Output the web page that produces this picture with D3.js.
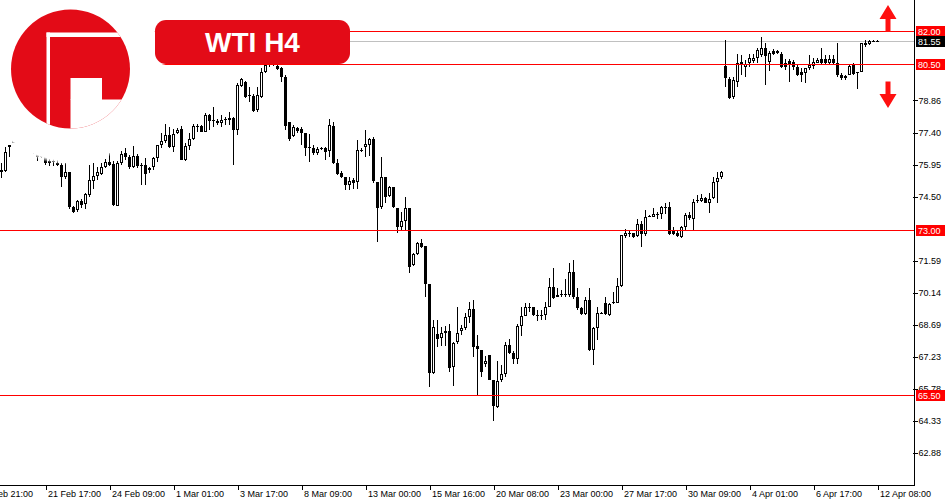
<!DOCTYPE html>
<html>
<head>
<meta charset="utf-8">
<script src="https://cdn.jsdelivr.net/npm/d3@7"></script>
<style>
  html, body { margin: 0; padding: 0; background: #ffffff; }
  svg { display: block; }
</style>
</head>
<body>
<svg id="chart" width="950" height="500"></svg>
<script>
// ---------------- DATA (WTI H4 candles, bar index 0..219) ----------------
const opens = [
75.61,75.67,76.73,76.95,77.10,77.25,77.05,76.80,76.60,76.50,
76.30,76.35,76.00,76.10,76.03,75.93,75.40,75.60,74.01,73.89,
74.29,74.16,74.57,75.21,75.45,75.52,75.83,76.07,75.98,74.09,
76.01,76.49,76.28,75.83,76.34,75.95,75.93,75.70,75.83,76.24,
76.84,77.03,77.29,76.76,77.37,77.55,76.16,76.79,77.09,77.70,
77.70,77.44,78.20,77.99,77.92,77.85,77.99,77.97,78.07,77.52,
79.52,79.70,79.10,79.07,78.42,79.02,80.16,80.46,80.49,80.43,
80.31,79.93,77.89,77.24,77.61,77.55,77.39,76.73,76.71,76.46,
76.69,76.71,76.58,77.70,76.01,75.55,75.40,75.04,75.25,75.17,
76.61,76.76,76.84,77.09,75.17,74.01,75.40,74.53,74.95,73.97,
73.14,73.41,73.97,71.40,71.89,72.38,72.26,70.54,66.50,68.28,
68.08,68.41,68.41,66.77,67.93,68.43,68.54,69.06,69.40,67.73,
67.55,66.90,67.33,66.19,64.98,66.19,66.46,67.78,67.43,67.13,
68.64,69.09,69.49,69.49,69.13,69.12,69.12,69.51,70.39,69.94,
70.09,70.07,70.04,71.10,69.97,69.44,69.18,69.82,67.55,68.54,
69.21,69.70,69.14,69.70,69.70,70.45,72.72,72.87,72.86,72.72,
73.26,72.81,73.62,73.59,73.71,73.71,74.01,74.01,72.96,72.86,
72.68,73.14,73.67,73.47,74.31,74.31,74.42,74.22,74.42,75.17,
75.37,80.41,79.81,79.02,79.70,80.58,80.38,80.54,80.65,80.78,
80.91,81.21,80.61,81.11,81.11,80.96,80.54,80.65,80.58,80.38,
80.16,80.08,80.31,80.40,80.56,80.72,80.72,80.56,80.72,80.54,
80.01,79.86,80.01,80.46,80.16,80.16,81.37,81.40,81.53,81.55];
const highs = [
76.02,76.76,76.86,77.20,77.35,77.40,77.20,76.95,76.70,76.55,
76.45,76.40,76.20,76.25,76.15,76.01,76.01,75.61,74.07,74.35,
74.38,74.65,75.93,76.04,75.85,76.04,76.19,76.46,76.13,76.13,
76.58,76.69,76.38,76.79,76.43,76.01,76.23,75.85,76.28,76.84,
77.37,77.79,77.67,77.55,77.59,77.70,76.91,77.37,77.79,77.79,
77.74,78.27,78.23,78.57,78.01,78.20,78.12,78.32,78.12,79.63,
79.88,79.73,79.48,79.13,79.48,80.31,80.49,80.54,80.54,80.49,
80.38,80.01,77.89,77.74,77.67,77.64,77.39,77.34,76.84,76.76,
76.76,76.76,78.01,77.89,76.19,75.67,75.40,75.40,75.33,77.06,
76.69,77.52,77.14,77.21,75.17,76.31,75.40,74.98,74.95,73.97,
73.82,74.50,73.97,71.93,72.46,72.57,72.26,70.54,68.91,68.91,
68.61,68.64,68.73,67.93,69.51,68.68,69.21,69.74,69.82,68.23,
67.55,67.28,67.33,66.19,67.07,66.87,67.93,68.04,67.52,68.73,
69.49,69.67,69.70,69.49,69.36,69.36,69.74,70.80,71.25,70.35,
70.27,70.75,71.48,71.63,70.35,69.51,69.97,70.35,68.58,69.51,
69.29,69.94,69.67,70.19,70.80,72.76,73.02,72.99,72.86,73.47,
73.41,73.89,73.67,73.97,73.82,74.07,74.20,74.27,73.14,72.96,
73.17,73.77,73.82,74.38,74.57,74.62,74.50,74.65,75.40,75.63,
75.67,81.59,79.93,79.90,80.96,80.91,80.69,80.96,80.96,81.23,
81.73,81.46,81.09,81.18,81.14,81.06,80.72,80.72,80.69,80.46,
80.31,80.31,80.91,80.76,80.76,81.22,80.91,80.91,80.91,81.44,
80.08,80.01,80.46,80.54,80.16,81.47,81.59,81.59,81.57,81.58];
const lows = [
75.34,75.63,76.30,76.92,76.95,77.00,76.70,76.55,76.45,76.13,
76.26,75.94,75.90,75.90,75.90,74.95,75.28,73.92,73.74,73.82,
73.97,73.95,74.50,74.83,75.25,75.48,75.78,75.88,74.07,74.07,
75.93,76.16,75.74,75.78,75.78,75.03,75.03,75.55,75.70,76.08,
76.69,76.91,76.69,76.53,77.33,76.16,76.13,76.61,77.06,77.44,
77.41,77.41,77.52,77.67,77.74,77.67,77.74,77.74,75.93,77.29,
79.48,78.98,78.80,78.32,78.35,78.95,80.08,80.38,80.41,80.23,
79.68,77.52,77.03,77.18,77.37,76.84,76.34,76.08,76.38,76.38,
76.61,76.16,76.30,75.98,75.48,75.33,74.80,74.80,74.83,74.83,
76.53,76.28,76.34,75.10,72.46,73.92,74.20,74.50,73.97,72.86,
72.99,72.99,71.05,71.36,71.85,72.16,69.97,65.86,66.46,67.70,
67.73,67.73,66.57,65.92,67.82,68.23,68.46,68.79,67.25,65.47,
66.32,66.80,66.19,64.35,64.91,66.12,66.34,67.37,66.92,66.92,
68.19,69.09,69.29,69.09,68.88,68.91,68.91,69.49,69.85,69.94,
69.94,69.94,69.97,69.85,69.36,69.14,69.14,67.52,66.87,68.00,
69.18,69.14,69.09,69.64,69.67,70.42,72.61,72.68,72.61,72.68,
72.20,72.72,73.56,73.59,73.47,73.47,73.71,72.76,72.76,72.68,
72.61,72.99,73.44,72.99,74.20,74.27,74.20,73.77,74.38,74.22,
75.28,79.45,78.91,78.91,79.45,80.01,79.93,80.38,80.54,80.56,
80.84,79.55,80.20,80.91,80.96,80.31,80.23,79.70,80.23,79.96,
79.70,79.66,80.23,80.27,80.54,80.46,80.50,80.46,80.50,79.93,
79.78,79.78,80.01,80.01,79.36,80.13,81.29,81.37,81.51,81.54];
const closes = [
75.70,76.53,76.84,77.10,77.25,77.05,76.80,76.60,76.50,76.30,
76.35,76.00,76.10,76.05,75.92,75.40,75.60,74.01,73.82,74.31,
74.12,74.60,75.25,75.43,75.63,75.85,76.07,75.95,74.12,76.01,
76.43,76.31,75.85,76.34,75.89,75.93,75.52,75.79,76.24,76.84,
77.03,77.29,76.76,77.34,77.52,76.16,76.79,77.09,77.70,77.68,
77.44,78.20,77.94,77.95,77.82,77.97,78.01,78.07,77.52,79.55,
79.83,79.02,79.06,78.38,79.10,80.16,80.46,80.49,80.47,80.28,
79.90,77.70,77.10,77.64,77.48,77.39,76.71,76.71,76.46,76.64,
76.67,76.53,77.74,76.01,75.52,75.37,75.03,75.22,75.13,76.61,
76.63,76.88,77.09,75.22,73.97,75.40,74.50,74.95,74.01,73.14,
73.41,73.97,71.30,71.89,72.38,72.23,70.54,66.52,68.58,68.04,
68.34,68.34,66.72,67.88,68.31,68.56,69.06,69.40,67.70,67.58,
66.57,67.05,66.19,65.02,66.15,66.46,67.78,67.43,67.13,68.64,
69.09,69.49,69.47,69.14,69.11,69.14,69.51,70.39,69.89,70.04,
70.07,70.09,71.10,69.94,69.44,69.18,69.82,67.55,68.54,69.21,
69.23,69.18,69.64,69.72,70.45,72.76,72.86,72.85,72.68,73.26,
72.81,73.56,73.60,73.71,73.72,74.01,74.03,72.81,72.81,72.72,
73.11,73.67,73.52,74.27,74.33,74.42,74.20,74.38,75.17,75.33,
75.63,79.86,78.95,79.78,80.54,80.49,80.50,80.76,80.76,81.14,
81.21,80.87,81.02,80.96,80.99,80.36,80.36,80.46,80.38,80.01,
80.01,80.31,80.46,80.61,80.69,80.54,80.56,80.72,80.54,80.01,
79.86,79.96,80.41,80.05,80.08,81.44,81.47,81.55,81.54,81.55];

// time-axis labels (bar index of each label, every 16 H4 bars)
const xTickBars   = [-6, 11, 27, 43, 59, 75, 91, 107, 123, 139, 155, 171, 187, 203, 219];
const xTickLabels = ["17 Feb 21:00","21 Feb 17:00","24 Feb 09:00","1 Mar 01:00","3 Mar 17:00",
  "8 Mar 09:00","13 Mar 00:00","15 Mar 16:00","20 Mar 08:00","23 Mar 00:00","27 Mar 17:00",
  "30 Mar 09:00","4 Apr 01:00","6 Apr 17:00","12 Apr 08:00"];
// price-scale labels
const yTickValues = [78.86, 77.40, 75.95, 74.50, 71.59, 70.14, 68.69, 67.23, 65.78, 64.33, 62.88];
// horizontal levels and current bid
const levels = [82.00, 80.50, 73.00, 65.50];
const bidPrice = 81.55;
const title = "WTI H4";

// ---------------- DRAWING ----------------
const plotRight = 914, plotBottom = 485;
const svg = d3.select("#chart");

const x = d3.scaleLinear().domain([0, 219]).range([1, 877]);
const y = d3.scaleLinear().domain([61.44, 83.404]).range([485, 0]);

const bars = d3.range(opens.length).filter(i => opens[i] != null).map(i => ({
  i, o: opens[i], h: highs[i], l: lows[i], c: closes[i]
}));

const plot = svg.append("g");

// bid line (silver, behind candles)
plot.append("line")
  .attr("x1", 0).attr("x2", plotRight)
  .attr("y1", Math.round(y(bidPrice)) + 0.5).attr("y2", Math.round(y(bidPrice)) + 0.5)
  .attr("stroke", "#c0c0c0").attr("stroke-width", 1);

// candles
const cg = plot.append("g").attr("shape-rendering", "crispEdges");
bars.forEach(b => {
  const cx = Math.round(x(b.i));
  const yh = Math.round(y(b.h)), yl = Math.round(y(b.l));
  cg.append("line")
    .attr("x1", cx + 0.5).attr("x2", cx + 0.5)
    .attr("y1", yh).attr("y2", Math.max(yl, yh + 1))
    .attr("stroke", "#000").attr("stroke-width", 1);
  const yTop = Math.round(y(Math.max(b.o, b.c)));
  const yBot = Math.round(y(Math.min(b.o, b.c)));
  const hgt = Math.max(1, yBot - yTop);
  if (b.c >= b.o && hgt >= 3) {
    cg.append("rect")
      .attr("x", cx - 0.5).attr("y", yTop + 0.5)
      .attr("width", 2).attr("height", hgt - 1)
      .attr("fill", "#fff").attr("stroke", "#000").attr("stroke-width", 1);
  } else {
    cg.append("rect")
      .attr("x", cx - 1).attr("y", yTop)
      .attr("width", 3).attr("height", hgt)
      .attr("fill", "#000");
  }
});

// red horizontal levels
levels.forEach(v => {
  const yy = Math.round(y(v)) + 0.5;
  plot.append("line")
    .attr("x1", 0).attr("x2", plotRight)
    .attr("y1", yy).attr("y2", yy)
    .attr("stroke", "#ff0000").attr("stroke-width", 1);
});

// white halo of the logo watermark
const defs = svg.append("defs");
const rg = defs.append("radialGradient").attr("id", "halo");
rg.append("stop").attr("offset", "0.955").attr("stop-color", "#fff").attr("stop-opacity", 1);
rg.append("stop").attr("offset", "1").attr("stop-color", "#fff").attr("stop-opacity", 0);
svg.append("circle").attr("cx", 70).attr("cy", 69).attr("r", 96).attr("fill", "url(#halo)");

// logo
const logoRed = "#e30b17";
defs.append("clipPath").attr("id", "logoClip")
  .append("circle").attr("cx", 70.5).attr("cy", 69).attr("r", 59.5);
const lg = svg.append("g").attr("clip-path", "url(#logoClip)");
lg.append("rect").attr("x", 0).attr("y", 0).attr("width", 140).attr("height", 140).attr("fill", logoRed);
lg.append("rect").attr("x", 46.5).attr("y", 32.5).attr("width", 3.5).attr("height", 110).attr("fill", "#fff");
lg.append("rect").attr("x", 46.5).attr("y", 32.5).attr("width", 100).attr("height", 4.5).attr("fill", "#fff");
lg.append("rect").attr("x", 70.5).attr("y", 78).attr("width", 31.5).attr("height", 22).attr("fill", "#fff");
lg.append("rect").attr("x", 70.5).attr("y", 99.5).attr("width", 70).attr("height", 40).attr("fill", "#fff");

// title badge
svg.append("rect").attr("x", 155).attr("y", 20).attr("width", 195).attr("height", 44)
  .attr("rx", 11).attr("fill", logoRed);
svg.append("text").attr("x", 252.5).attr("y", 52)
  .attr("text-anchor", "middle")
  .attr("font-family", "'Liberation Sans', Arial, sans-serif")
  .attr("font-weight", "bold").attr("font-size", 28)
  .attr("fill", "#fff").text(title);

// axes
const axFont = "'Liberation Sans', Arial, sans-serif";
const xAxis = d3.axisBottom(x).tickValues(xTickBars)
  .tickFormat((d, k) => xTickLabels[k]).tickSize(4).tickSizeOuter(0);
const gx = svg.append("g").attr("transform", `translate(0.5,${plotBottom + 0.5})`).call(xAxis);
gx.select(".domain").remove();
gx.selectAll(".tick line").attr("stroke", "#000").attr("shape-rendering", "crispEdges");
gx.selectAll(".tick text")
  .attr("text-anchor", "start").attr("x", 2).attr("y", 5.5).attr("dy", "0.71em")
  .attr("font-family", axFont).attr("font-size", 9).attr("fill", "#000");

const yAxis = d3.axisRight(y).tickValues(yTickValues).tickFormat(d3.format(".2f"))
  .tickSize(3).tickSizeOuter(0);
const gy = svg.append("g").attr("transform", `translate(${plotRight + 0.5},0)`).call(yAxis);
gy.select(".domain").remove();
gy.selectAll(".tick line").attr("stroke", "#000").attr("x1", -2).attr("shape-rendering", "crispEdges");
gy.selectAll(".tick text")
  .attr("x", 4).attr("dy", "0.3em")
  .attr("font-family", axFont).attr("font-size", 9).attr("fill", "#000");

// frame lines
svg.append("line").attr("x1", 0).attr("x2", plotRight + 1)
  .attr("y1", plotBottom + 0.5).attr("y2", plotBottom + 0.5).attr("stroke", "#000");
svg.append("line").attr("x1", plotRight + 0.5).attr("x2", plotRight + 0.5)
  .attr("y1", 0).attr("y2", plotBottom + 1).attr("stroke", "#000");

// price tags
function tag(v, bg) {
  const yy = y(v);
  svg.append("rect").attr("x", 916).attr("y", Math.round(yy) - 5)
    .attr("width", 29).attr("height", 11).attr("fill", bg);
  svg.append("text").attr("x", 918).attr("y", Math.round(yy) + 3.5)
    .attr("font-family", axFont).attr("font-size", 9).attr("fill", "#fff")
    .text(d3.format(".2f")(v));
}
levels.forEach(v => tag(v, "#ff0000"));
tag(bidPrice, "#000");

// arrows
const arrowRed = "#ff1010";
const ax = 888;
svg.append("path")
  .attr("d", `M${ax},5 L${ax + 8.5},19 L${ax + 2.5},19 L${ax + 2.5},32 L${ax - 2.5},32 L${ax - 2.5},19 L${ax - 8.5},19 Z`)
  .attr("fill", arrowRed);
svg.append("path")
  .attr("d", `M${ax},108 L${ax + 8.5},94 L${ax + 2.5},94 L${ax + 2.5},81.5 L${ax - 2.5},81.5 L${ax - 2.5},94 L${ax - 8.5},94 Z`)
  .attr("fill", arrowRed);
</script>
</body>
</html>
